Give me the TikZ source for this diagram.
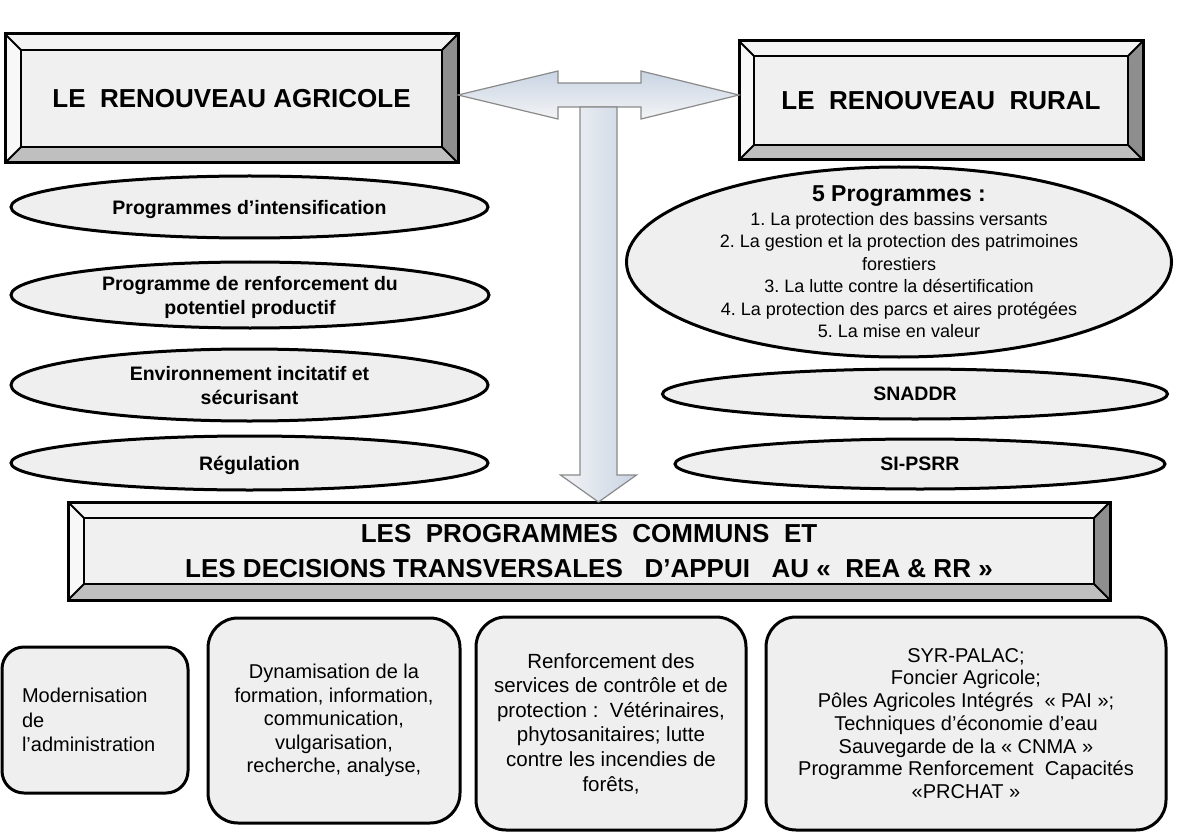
\documentclass[tikz,border=0pt]{standalone}
\usepackage{fontspec}
\setmainfont{Liberation Sans}
\frenchspacing
\usetikzlibrary{shapes.geometric,calc,backgrounds}
\definecolor{facein}{HTML}{F0F0F0}
\definecolor{facetop}{HTML}{F3F3F3}
\definecolor{faceleft}{HTML}{F8F8F8}
\definecolor{faceright}{HTML}{8E8E8E}
\definecolor{facebot}{HTML}{BFBFBF}
\definecolor{shapefill}{HTML}{EFEFEF}
\definecolor{arrowedge}{HTML}{8A8A8A}
\definecolor{arrowblue}{HTML}{C9D4E3}
\definecolor{arrowlight}{HTML}{F3F4F6}

\newcommand\bevelize[2]{%
  \fill[facetop] (#1.north west) -- (#1.north east) -- ([shift={(-#2,#2)}]#1.north east) -- ([shift={(#2,#2)}]#1.north west) -- cycle;
  \fill[faceleft] (#1.north west) -- ([shift={(#2,#2)}]#1.north west) -- ([shift={(#2,-#2)}]#1.south west) -- (#1.south west) -- cycle;
  \fill[faceright] (#1.north east) -- (#1.south east) -- ([shift={(-#2,-#2)}]#1.south east) -- ([shift={(-#2,#2)}]#1.north east) -- cycle;
  \fill[facebot] (#1.south west) -- ([shift={(#2,-#2)}]#1.south west) -- ([shift={(-#2,-#2)}]#1.south east) -- (#1.south east) -- cycle;
  \fill[facein] ([shift={(#2,#2)}]#1.north west) rectangle ([shift={(-#2,-#2)}]#1.south east);
  \draw[line width=2pt] (#1.north west) -- ([shift={(#2,#2)}]#1.north west)
                        (#1.north east) -- ([shift={(-#2,#2)}]#1.north east)
                        (#1.south west) -- ([shift={(#2,-#2)}]#1.south west)
                        (#1.south east) -- ([shift={(-#2,-#2)}]#1.south east);
  \draw[line width=2.6pt] ([shift={(#2,#2)}]#1.north west) rectangle ([shift={(-#2,-#2)}]#1.south east);
  \draw[line width=3pt] (#1.north west) rectangle (#1.south east);
}

\tikzset{
  bevnode/.style={rectangle, outer sep=0pt, inner sep=0pt, align=center,
    font=\fontsize{26}{35}\selectfont\bfseries},
  ell/.style={ellipse, draw, line width=3pt, fill=shapefill, inner sep=0pt,
    outer sep=0pt, align=center, text depth=0pt,
    font=\fontsize{19.5}{24}\selectfont\bfseries},
  rbox/.style={rectangle, rounded corners=30pt, draw, line width=3pt,
    fill=shapefill, inner sep=0pt, outer sep=0pt, align=center,
    font=\fontsize{20}{23.5}\selectfont},
  dblarrow/.style={draw=arrowedge, line width=1.2pt, top color=arrowblue,
    middle color=arrowlight, bottom color=arrowlight},
  downarrow/.style={draw=arrowedge, line width=1.2pt, left color=arrowlight,
    middle color=arrowlight, right color=arrowblue}
}

\begin{document}
\begin{tikzpicture}[x=1pt,y=-1pt]
\useasboundingbox (0,0) rectangle (1177,834);

% Header boxes
\node[bevnode, minimum width=453pt, minimum height=129pt] (agri) at (231.5,98.5)
  {LE\ \ RENOUVEAU AGRICOLE};
\node[bevnode, minimum width=404pt, minimum height=119pt] (rural) at (941,100.5)
  {LE\ \ RENOUVEAU\ \ RURAL};
\node[bevnode, minimum width=1042pt, minimum height=98pt] (common) at (589,551)
  {LES\ \ PROGRAMMES\ \ COMMUNS\ \ ET\\
   LES DECISIONS TRANSVERSALES\ \ \ D’APPUI\ \ \ AU «\ \ REA \& RR »};
\begin{scope}[on background layer]
  \fill[white] (0,0) rectangle (1177,834);
  \bevelize{agri}{16}
  \bevelize{rural}{15}
  \bevelize{common}{16}
\end{scope}

% Arrows
\coordinate (L) at ($(agri.east)+(0,-3.5)$);
\coordinate (R) at ($(rural.west)+(0,-5.5)$);
\draw[dblarrow] (L) -- ($(L)+(100,-24)$) -- ($(L)+(100,-12)$) -- ($(R)+(-98,-12)$)
  -- ($(R)+(-98,-24)$) -- (R) -- ($(R)+(-98,24)$) -- ($(R)+(-98,12)$)
  -- ($(L)+(100,12)$) -- ($(L)+(100,24)$) -- cycle;
\coordinate (dtop) at ($(L)!0.5!(R)+(0,12)$);
\coordinate (tip) at (dtop |- common.north);
\draw[downarrow] ($(dtop)+(-18.5,0)$) -- ($(tip)+(-18.5,-27)$) -- ($(tip)+(-38,-27)$)
  -- (tip) -- ($(tip)+(38,-27)$) -- ($(tip)+(18.5,-27)$) -- ($(dtop)+(18.5,0)$) -- cycle;

% Left ellipses
\node[ell, minimum width=477pt, minimum height=62pt] (e1) at (249.5,207)
  {Programmes d’intensification};
\node[ell, minimum width=478pt, minimum height=66pt] (e2) at (250,295)
  {Programme de renforcement du\\potentiel productif};
\node[ell, minimum width=477pt, minimum height=72pt] (e3) at (249.5,385)
  {Environnement incitatif et\\sécurisant};
\node[ell, minimum width=477pt, minimum height=54pt] (e4) at (249.5,463)
  {Régulation};

% Right ellipses
\node[ell, minimum width=545pt, minimum height=190pt] (prog5) at (899,262) {};
\node[align=center, inner sep=0pt, font=\fontsize{18}{22.5}\selectfont] at (prog5.center)
  {{\fontsize{23}{27}\selectfont\bfseries 5 Programmes :}\\[1pt]
   1. La protection des bassins versants\\
   2. La gestion et la protection des patrimoines\\
   forestiers\\
   3. La lutte contre la désertification\\
   4. La protection des parcs et aires protégées\\
   5. La mise en valeur};
\node[ell, minimum width=505pt, minimum height=50pt] (snaddr) at (915,394) {SNADDR};
\node[ell, minimum width=490pt, minimum height=50pt] (sipsrr) at (920,464) {SI-PSRR};

% Bottom boxes
\node[rbox, rounded corners=22pt, minimum width=186pt, minimum height=146pt,
      text width=146pt, inner xsep=20pt, align=left, font=\fontsize{20}{24.5}\selectfont]
  (b1) at (95,720) {Modernisation\\de\\l’administration};
\node[rbox, minimum width=252pt, minimum height=205pt] (b2) at (334,720.5)
  {Dynamisation de la\\formation, information,\\communication,\\vulgarisation,\\recherche, analyse,};
\node[rbox, minimum width=270pt, minimum height=213pt,
      font=\fontsize{20.5}{24.6}\selectfont] (b3) at (611,723.5)
  {Renforcement des\\services de contrôle et de\\protection :\ \ Vétérinaires,\\phytosanitaires; lutte\\contre les incendies de\\forêts,};
\node[rbox, minimum width=400pt, minimum height=213pt,
      font=\fontsize{20}{22.7}\selectfont] (b4) at (966,723.5)
  {SYR-PALAC;\\Foncier Agricole;\\Pôles Agricoles Intégrés\ \ « PAI »;\\Techniques d’économie d’eau\\Sauvegarde de la « CNMA »\\Programme Renforcement\ \ Capacités\\«PRCHAT »};
\end{tikzpicture}
\end{document}
